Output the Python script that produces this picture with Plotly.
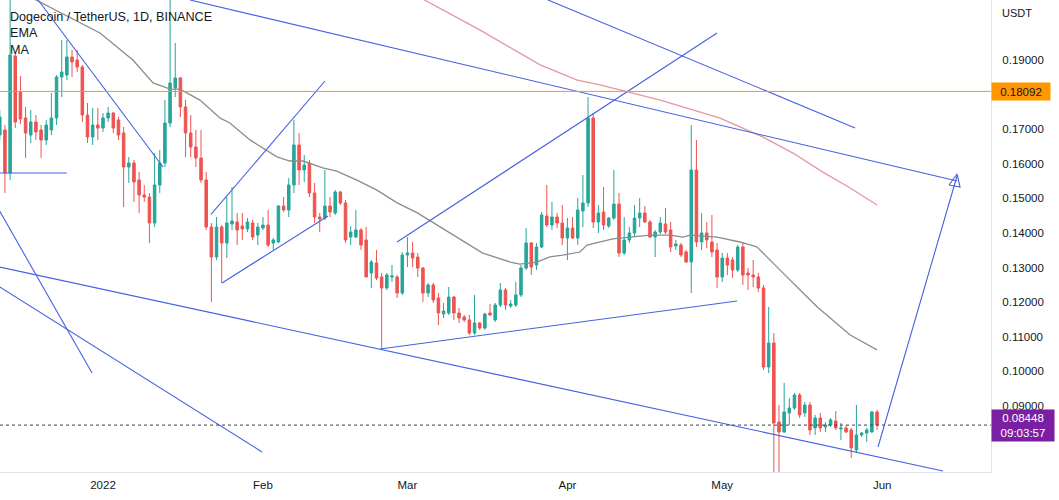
import pandas as pd
import plotly.graph_objects as go

# ---------------- data ----------------
dates = pd.date_range("2021-12-12", "2022-05-31", freq="D")

opens = [0.16832,0.16977,0.15734,0.19116,0.18075,0.17324,0.16832,0.17208,0.16977,0.16688,
         0.16977,0.17324,0.18509,0.18566,0.19087,0.19000,0.18798,0.17410,0.16774,0.17121,
         0.17034,0.17324,0.17468,0.17266,0.16890,0.15907,0.16023,0.15532,0.15098,0.15040,
         0.14289,0.15387,0.16023,0.17179,0.18191,0.18480,0.17642,0.16890,0.16485,0.16167,
         0.15532,0.14173,0.13306,0.14173,0.13711,0.14260,0.14318,0.14202,0.14116,0.14289,
         0.13942,0.14144,0.14231,0.13711,0.13740,0.14780,0.14665,0.15387,0.16543,0.15821,
         0.16023,0.15156,0.14462,0.14433,0.14780,0.14578,0.15185,0.14867,0.13884,0.13884,
         0.14087,0.13798,0.12844,0.13133,0.12728,0.12410,0.12728,0.12728,0.12266,0.13364,
         0.13422,0.13306,0.12988,0.12266,0.12497,0.12121,0.11659,0.11688,0.12150,0.11688,
         0.11572,0.11486,0.11110,0.11399,0.11254,0.11688,0.11486,0.11919,0.12353,0.11890,
         0.11919,0.12208,0.12988,0.13711,0.13075,0.13595,0.14491,0.14231,0.14462,0.14289,
         0.13855,0.14144,0.13855,0.14636,0.14867,0.17324,0.14318,0.14607,0.14202,0.14433,
         0.14838,0.13422,0.13798,0.14000,0.14433,0.14578,0.14318,0.13884,0.14029,0.14260,
         0.14087,0.13624,0.13653,0.13451,0.13162,0.15821,0.13740,0.14000,0.13740,0.13509,
         0.12728,0.13277,0.13220,0.12931,0.13595,0.12844,0.12786,0.12728,0.12410,0.10127,
         0.10821,0.08538,0.08249,0.08798,0.08942,0.09318,0.08798,0.09029,0.08364,0.08653,
         0.08393,0.08451,0.08567,0.08335,0.08364,0.08307,0.07728,0.08162,0.08220,0.08249,
         0.08827]
highs = [0.17555,0.17121,0.20900,0.19231,0.18538,0.17642,0.17555,0.17410,0.17121,0.17266,
         0.18046,0.18566,0.19578,0.19578,0.19289,0.19289,0.18855,0.17757,0.17613,0.17613,
         0.17468,0.17642,0.17497,0.17352,0.17063,0.16196,0.16110,0.15763,0.15387,0.15156,
         0.16312,0.16399,0.17844,0.20950,0.19491,0.18509,0.17844,0.17410,0.16977,0.16977,
         0.15763,0.14289,0.14462,0.14231,0.15040,0.15329,0.14578,0.14578,0.14433,0.14376,
         0.14289,0.14462,0.14665,0.13855,0.14809,0.15040,0.15589,0.17266,0.16890,0.16254,
         0.16110,0.15445,0.14578,0.15821,0.15040,0.15243,0.15214,0.14954,0.14202,0.14665,
         0.14144,0.14173,0.13220,0.13509,0.12844,0.12844,0.13075,0.12786,0.13451,0.13884,
         0.13740,0.13422,0.13017,0.12555,0.12555,0.12266,0.11977,0.12439,0.12179,0.11832,
         0.11630,0.11630,0.12208,0.11428,0.11688,0.11948,0.11977,0.12555,0.12410,0.12064,
         0.12584,0.13075,0.14144,0.13740,0.13711,0.14607,0.15387,0.14896,0.14578,0.14809,
         0.14433,0.14462,0.15011,0.15676,0.17930,0.17468,0.14809,0.15329,0.14462,0.15821,
         0.15156,0.14462,0.14173,0.14809,0.15011,0.14780,0.14376,0.14087,0.14462,0.14722,
         0.14318,0.13798,0.13711,0.13509,0.17121,0.16688,0.14578,0.14318,0.14520,0.13711,
         0.13422,0.13422,0.13306,0.13653,0.13740,0.12988,0.13220,0.12844,0.12497,0.11861,
         0.11110,0.09029,0.09665,0.09231,0.09376,0.09376,0.09116,0.09116,0.08740,0.08798,
         0.08538,0.08653,0.08855,0.08509,0.08451,0.08364,0.09029,0.08249,0.08364,0.08855,
         0.08884]
lows = [0.16688,0.15156,0.15532,0.17034,0.17150,0.16167,0.16601,0.16688,0.16167,0.16543,
        0.16832,0.17121,0.17930,0.18422,0.18509,0.18653,0.17208,0.16601,0.16543,0.16688,
        0.16919,0.17208,0.16890,0.16688,0.14751,0.15445,0.14896,0.14578,0.14896,0.13711,
        0.14173,0.15156,0.15907,0.17063,0.17930,0.17352,0.16196,0.16196,0.15907,0.15445,
        0.14087,0.12006,0.13220,0.12555,0.13277,0.14087,0.13653,0.13798,0.14029,0.13798,
        0.13653,0.14087,0.13595,0.13509,0.13711,0.14607,0.14462,0.15156,0.15387,0.15474,
        0.15040,0.14289,0.14029,0.14376,0.14462,0.14520,0.14809,0.13711,0.13653,0.13855,
        0.13509,0.12728,0.12410,0.12642,0.10676,0.12353,0.12584,0.12121,0.12208,0.13017,
        0.13017,0.12728,0.12006,0.12150,0.11977,0.11341,0.11543,0.11630,0.11486,0.11399,
        0.11428,0.11052,0.11052,0.11197,0.11197,0.11601,0.11428,0.11861,0.11775,0.11832,
        0.11861,0.12150,0.12931,0.12786,0.12931,0.13566,0.14173,0.14087,0.14144,0.13653,
        0.13220,0.13827,0.13653,0.14173,0.14751,0.14144,0.14000,0.14087,0.14144,0.14376,
        0.13306,0.13364,0.13711,0.13884,0.14173,0.14289,0.13855,0.13306,0.13971,0.13971,
        0.13451,0.13509,0.13306,0.13133,0.12266,0.13595,0.13509,0.13566,0.13306,0.12410,
        0.12584,0.12786,0.12699,0.12873,0.12497,0.12353,0.12439,0.12295,0.10040,0.09953,
        0.07000,0.06900,0.08220,0.08451,0.08884,0.08653,0.08682,0.08162,0.08162,0.08249,
        0.08249,0.08393,0.08307,0.08018,0.08220,0.07497,0.07641,0.08104,0.07960,0.08220,
        0.08307]
closes = [0.17352,0.15734,0.19144,0.17208,0.17295,0.16890,0.17208,0.16919,0.16688,0.17121,
          0.17324,0.18509,0.18653,0.19087,0.18942,0.18798,0.17410,0.16774,0.17121,0.17034,
          0.17324,0.17468,0.17034,0.16832,0.15907,0.16023,0.15474,0.15098,0.15040,0.14289,
          0.15387,0.16023,0.17179,0.18335,0.18480,0.17642,0.16890,0.16485,0.16167,0.15532,
          0.14173,0.13306,0.14173,0.13711,0.14289,0.14347,0.14087,0.14116,0.14318,0.13884,
          0.14173,0.14231,0.13653,0.13798,0.14780,0.14665,0.15387,0.16543,0.15821,0.15965,
          0.15156,0.14462,0.14405,0.14780,0.14607,0.15185,0.14867,0.13798,0.14029,0.14087,
          0.13653,0.12728,0.13162,0.12699,0.12410,0.12786,0.12757,0.12266,0.13364,0.13422,
          0.13277,0.12988,0.12266,0.12497,0.12064,0.11688,0.11746,0.12150,0.11688,0.11543,
          0.11486,0.11110,0.11399,0.11254,0.11659,0.11630,0.11919,0.12353,0.11919,0.11948,
          0.12208,0.12988,0.13711,0.13017,0.13595,0.14520,0.14231,0.14462,0.14289,0.13855,
          0.14144,0.13855,0.14665,0.14867,0.17324,0.14318,0.14578,0.14231,0.14433,0.14838,
          0.13422,0.13798,0.14000,0.14433,0.14578,0.14318,0.13884,0.14029,0.14289,0.14029,
          0.13595,0.13682,0.13364,0.13162,0.15821,0.13740,0.14000,0.13798,0.13451,0.12728,
          0.13277,0.13075,0.12931,0.13595,0.12786,0.12786,0.12728,0.12410,0.10127,0.10821,
          0.08509,0.08249,0.08827,0.08942,0.09318,0.08740,0.09029,0.08307,0.08653,0.08364,
          0.08451,0.08596,0.08364,0.08364,0.08249,0.07786,0.08162,0.08220,0.08307,0.08827,
          0.08448]

ema_dates = ["2021-12-17 12:00","2021-12-31 10:00","2022-01-06 19:00","2022-01-10 17:00",
             "2022-01-14 00:00","2022-01-15 22:00","2022-01-19 19:00","2022-01-23 17:00",
             "2022-01-25 14:00","2022-01-29 12:00","2022-02-03 17:00","2022-02-06 05:00",
             "2022-02-08 19:00","2022-02-12 14:00","2022-02-15 07:00","2022-02-19 05:00",
             "2022-02-23 02:00","2022-02-27 00:00","2022-03-02 22:00","2022-03-09 05:00",
             "2022-03-15 14:00","2022-03-20 22:00","2022-03-22 19:00","2022-03-26 02:00",
             "2022-03-28 14:00","2022-03-31 02:00","2022-04-03 10:00","2022-04-04 19:00",
             "2022-04-09 19:00","2022-04-17 00:00","2022-04-20 22:00","2022-04-23 10:00",
             "2022-04-24 19:00","2022-04-30 00:00","2022-05-04 10:00","2022-05-07 17:00",
             "2022-05-09 17:00","2022-05-12 19:00","2022-05-16 02:00","2022-05-19 10:00",
             "2022-05-25 19:00","2022-05-31 00:00"]
ema_values = [0.2085,0.1978,0.1900,0.1834,0.1816,0.1816,0.1784,0.1732,0.1718,0.1669,
              0.1620,0.1608,0.1608,0.1588,0.1579,0.1553,0.1524,0.1487,0.1458,0.1400,
              0.1342,0.1316,0.1310,0.1316,0.1331,0.1336,0.1345,0.1365,0.1383,0.1394,
              0.1394,0.1388,0.1394,0.1388,0.1374,0.1360,0.1331,0.1284,0.1235,0.1186,
              0.1105,0.1062]

ma_dates = ["2022-03-02 12:00","2022-03-15 00:00","2022-03-26 17:00","2022-04-02 22:00",
            "2022-04-07 07:00","2022-04-19 00:00","2022-04-30 14:00","2022-05-08 22:00",
            "2022-05-14 17:00","2022-05-20 12:00","2022-05-25 19:00","2022-05-31 00:00"]
ma_values = [0.2088,0.1987,0.1886,0.1842,0.1828,0.1784,0.1732,0.1677,0.1631,0.1576,0.1530,0.1481]

# drawn trend lines: (start date, start price, end date, end price)
trend_lines = [
    ("2021-12-19 10:00", 0.20734, "2022-01-12 15:00", 0.15908),
    ("2021-12-11 18:00", 0.15734, "2021-12-25 00:00", 0.15734),
    ("2021-12-11 02:00", 0.14867, "2021-12-29 21:00", 0.09954),
    ("2021-12-11 02:00", 0.12526, "2022-01-31 19:30", 0.07671),
    ("2021-12-11 02:00", 0.13046, "2022-06-12 19:00", 0.07121),
    ("2022-01-17 20:40", 0.20734, "2022-06-15 12:00", 0.15503),
    ("2022-03-28 05:45", 0.20734, "2022-05-26 17:45", 0.17035),
    ("2022-05-31 04:30", 0.07815, "2022-06-15 12:00", 0.15647),
    ("2022-01-21 22:20", 0.14538, "2022-02-13 00:30", 0.18393),
    ("2022-01-24 01:30", 0.12555, "2022-02-13 14:30", 0.14491),
    ("2022-02-26 23:30", 0.13740, "2022-04-30 00:00", 0.19780),
    ("2022-02-23 16:20", 0.10647, "2022-05-03 21:00", 0.12035),
]
arrow_head_dates = ["2022-06-13 22:50", "2022-06-15 12:00", "2022-06-16 02:10", "2022-06-13 22:50"]
arrow_head_prices = [0.15387, 0.15705, 0.15329, 0.15387]

hline_price = 0.18092
last_price = 0.08448
countdown = "09:03:57"

tick_dates = ["2022-01-01", "2022-02-01", "2022-03-01", "2022-04-01", "2022-05-01", "2022-06-01"]
tick_text = ["2022", "Feb", "Mar", "Apr", "May", "Jun"]
price_ticks = [0.09, 0.10, 0.11, 0.12, 0.13, 0.14, 0.15, 0.16, 0.17, 0.19]

x_range = ["2021-12-12 01:00", "2022-06-22 02:00"]
y_range = [0.07092, 0.20734]

# ---------------- figure ----------------
UP = "#26a69a"
DOWN = "#ef5350"
BLUE = "#4461e0"
TXT = "#131722"
FONT = "Liberation Sans, Arial, sans-serif"

fig = go.Figure()

fig.add_trace(go.Candlestick(
    x=dates, open=opens, high=highs, low=lows, close=closes,
    increasing=dict(line=dict(color=UP, width=1), fillcolor=UP),
    decreasing=dict(line=dict(color=DOWN, width=1), fillcolor=DOWN),
    whiskerwidth=0, hoverinfo="skip", showlegend=False,
))

fig.add_trace(go.Scatter(x=ema_dates, y=ema_values, mode="lines",
                         line=dict(color="#8c8c8c", width=1.3), hoverinfo="skip"))
fig.add_trace(go.Scatter(x=ma_dates, y=ma_values, mode="lines",
                         line=dict(color="#e497a2", width=1.3), hoverinfo="skip"))

for (d0, p0, d1, p1) in trend_lines:
    fig.add_trace(go.Scatter(x=[d0, d1], y=[p0, p1], mode="lines",
                             line=dict(color=BLUE, width=1.1), hoverinfo="skip"))
fig.add_trace(go.Scatter(x=arrow_head_dates, y=arrow_head_prices, mode="lines",
                         line=dict(color=BLUE, width=1.1), hoverinfo="skip"))

# horizontal lines
fig.add_shape(type="line", xref="paper", x0=0, x1=1, yref="y", y0=hline_price, y1=hline_price,
              line=dict(color="#ff9800", width=1))
fig.add_shape(type="line", xref="paper", x0=0, x1=1, yref="y", y0=last_price, y1=last_price,
              line=dict(color="#3c4150", width=1, dash="dot"))

# price labels on axis
fig.add_annotation(xref="paper", x=1.0, xanchor="left", yref="y", y=hline_price, yanchor="middle",
                   text=f"{hline_price:.5f}", showarrow=False, bgcolor="#ff9800",
                   font=dict(family=FONT, size=11.5, color=TXT), width=56, height=15, borderpad=1)
fig.add_annotation(xref="paper", x=1.0, xanchor="left", yref="y", y=last_price, yanchor="middle",
                   text=f"{last_price:.5f}<br>{countdown}", showarrow=False, bgcolor="#7b1fa2",
                   font=dict(family=FONT, size=11.5, color="white"), width=60, height=29, borderpad=1)
fig.add_annotation(xref="paper", x=1.0095, xanchor="left", yref="paper", y=0.9725, yanchor="middle",
                   text="USDT", showarrow=False, font=dict(family=FONT, size=11, color=TXT))

# title / indicator texts
for txt, yp in [("Dogecoin / TetherUS, 1D, BINANCE", 0.965), ("EMA", 0.930), ("MA", 0.894)]:
    fig.add_annotation(xref="paper", x=0.008, xanchor="left", yref="paper", y=yp, yanchor="middle",
                       text=txt, showarrow=False, font=dict(family=FONT, size=12.6, color=TXT))

fig.update_layout(
    width=1059, height=500,
    margin=dict(l=0, r=68, t=0, b=28),
    paper_bgcolor="white", plot_bgcolor="white",
    showlegend=False, hovermode=False,
    xaxis=dict(range=x_range, rangeslider=dict(visible=False), showgrid=False, zeroline=False,
               tickvals=tick_dates, ticktext=tick_text, ticks="", showline=True,
               linecolor="#e0e3eb", linewidth=1, ticklabelstandoff=2,
               tickfont=dict(family=FONT, size=11.5, color=TXT)),
    yaxis=dict(range=y_range, side="right", showgrid=False, zeroline=False,
               tickvals=price_ticks, tickformat=".5f", ticks="", ticklabelstandoff=8,
               showline=True, linecolor="#e0e3eb", linewidth=1,
               tickfont=dict(family=FONT, size=11.5, color=TXT)),
)

fig.write_html("out.html")
